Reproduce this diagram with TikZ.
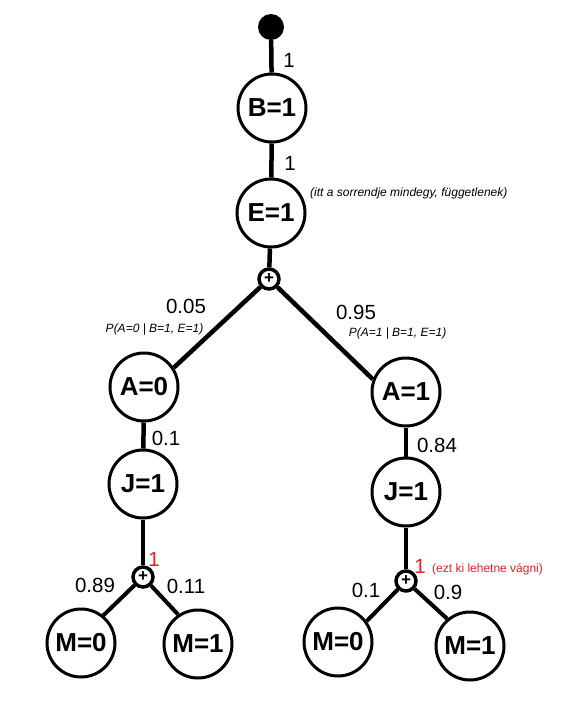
\documentclass[tikz,border=0pt]{standalone}
\usepackage{fontspec}
\setmainfont{Liberation Sans}
\definecolor{annred}{RGB}{237,28,36}
\begin{document}
\begin{tikzpicture}[x=1pt,y=-1pt,
  st/.style={circle,draw,line width=3pt,minimum size=68pt,inner sep=0pt,font=\bfseries\fontsize{26}{26}\selectfont},
  plusnode/.style={circle,draw,line width=3.5pt,minimum size=20pt,inner sep=0pt,font=\bfseries\fontsize{17}{17}\selectfont},
  edge/.style={line width=4.5pt},
  thinedge/.style={line width=4pt},
  lab/.style={font=\fontsize{20.5}{20.5}\selectfont,inner sep=0pt},
  cond/.style={font=\itshape\fontsize{12}{12}\selectfont,inner sep=0pt},
  redlab/.style={font=\fontsize{20.5}{20.5}\selectfont,inner sep=0pt,text=annred},
  rednote/.style={font=\fontsize{12}{12}\selectfont,inner sep=0pt,text=annred,anchor=west}]
\useasboundingbox (0,0) rectangle (581,713);
% nodes
\node[circle,fill,minimum size=26pt,inner sep=0pt] (root) at (271,27) {};
\node[st] (b) at (272,108) {B=1};
\node[st] (e) at (271,213) {E=1};
\node[plusnode] (p1) at (269,279) {\raisebox{1pt}{+}};
\node[st] (a0) at (144,387) {A=0};
\node[st] (a1) at (406,392) {A=1};
\node[st] (j0) at (143,484) {J=1};
\node[st] (j1) at (406,492) {J=1};
\node[plusnode] (p2) at (143,577) {\raisebox{1pt}{+}};
\node[plusnode] (p3) at (406,581) {\raisebox{1pt}{+}};
\node[st] (m00) at (81,643) {M=0};
\node[st] (m01) at (198,644) {M=1};
\node[st] (m10) at (338,642) {M=0};
\node[st] (m11) at (470,646) {M=1};
% connectors
\draw[edge] (root) -- (b);
\draw[edge] (b) -- (e);
\draw[edge] (e) -- (p1);
\draw[edge] (p1) -- (a0.33);
\draw[edge] (p1) -- (a1.159);
\draw[edge] (a0) -- (j0);
\draw[edge] (a1) -- (j1);
\draw[edge] (j0) -- (p2);
\draw[edge] (j1) -- (p3);
\draw[thinedge] (p2) -- (m00.51);
\draw[thinedge] (p2) -- (m01.124);
\draw[thinedge] (p3) -- (m10.36);
\draw[thinedge] (p3) -- (m11.130);
% labels
\node[lab] (l1) at (289,60) {1};
\node[lab] (l2) at (290,163) {1};
\node[cond,anchor=west] (note1) at (310,193) {(itt a sorrendje mindegy, függetlenek)};
\node[lab] (l005) at (186,306) {0.05};
\node[cond] (c0) at (154.5,329) {P(A=0 | B=1, E=1)};
\node[lab] (l095) at (356,312) {0.95};
\node[cond] (c1) at (397.5,333) {P(A=1 | B=1, E=1)};
\node[lab] (l01) at (166,438) {0.1};
\node[lab] (l084) at (437,445) {0.84};
\node[redlab] (r1) at (154,559) {1};
\node[lab] (l089) at (95,585) {0.89};
\node[lab] (l011) at (186,586) {0.11};
\node[redlab] (r2) at (420,566) {1};
\node[rednote] (note2) at (432,569) {(ezt ki lehetne vágni)};
\node[lab] (l01b) at (366,590) {0.1};
\node[lab] (l09) at (448,592) {0.9};
\end{tikzpicture}
\end{document}
